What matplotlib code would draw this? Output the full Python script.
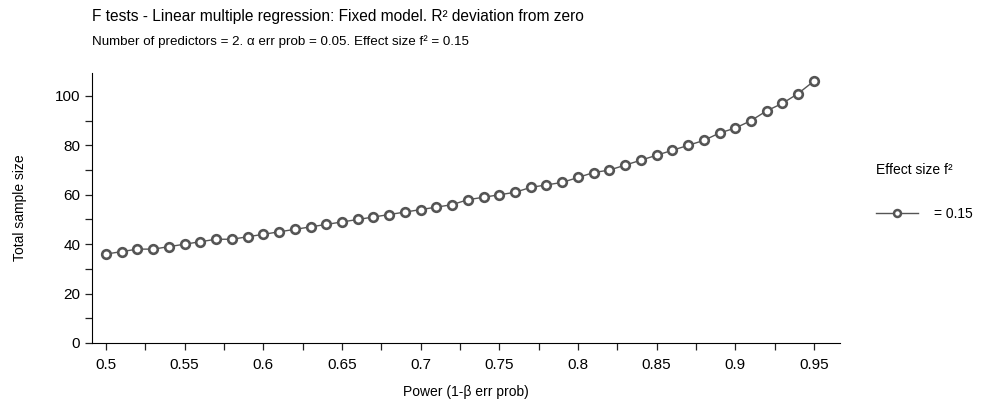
import numpy as np
from matplotlib import pyplot as plt
from matplotlib.ticker import MultipleLocator

plt.rcParams['font.family'] = ['Liberation Sans', 'DejaVu Sans']

# power (1-beta) values
power = [0.50, 0.51, 0.52, 0.53, 0.54, 0.55, 0.56, 0.57, 0.58, 0.59,
         0.60, 0.61, 0.62, 0.63, 0.64, 0.65, 0.66, 0.67, 0.68, 0.69,
         0.70, 0.71, 0.72, 0.73, 0.74, 0.75, 0.76, 0.77, 0.78, 0.79,
         0.80, 0.81, 0.82, 0.83, 0.84, 0.85, 0.86, 0.87, 0.88, 0.89,
         0.90, 0.91, 0.92, 0.93, 0.94, 0.95]
# total sample size
sample_size = [36, 37, 38, 38, 39, 40, 41, 42, 42, 43,
               44, 45, 46, 47, 48, 49, 50, 51, 52, 53,
               54, 55, 56, 58, 59, 60, 61, 63, 64, 65,
               67, 69, 70, 72, 74, 76, 78, 80, 82, 85,
               87, 90, 94, 97, 101, 106]
effect_label = "= 0.15"

fig = plt.figure(figsize=(9.85, 4.08), dpi=100)
ax = fig.add_axes([92/985, 65/408, 748/985, 270/408])

ax.plot(power, sample_size, color="#555555", linewidth=1.0,
        marker="o", markersize=6.2, markerfacecolor="white",
        markeredgecolor="#555555", markeredgewidth=1.9, label=effect_label)

ax.set_xlim(0.4911, 0.9666)
ax.set_ylim(0, 109.3)
ax.xaxis.set_minor_locator(MultipleLocator(0.025))
ax.yaxis.set_major_locator(MultipleLocator(20))
ax.yaxis.set_minor_locator(MultipleLocator(10))
ax.set_xticks(np.arange(0.5, 0.951, 0.05))
ax.set_xticklabels(["0.5", "0.55", "0.6", "0.65", "0.7", "0.75", "0.8", "0.85", "0.9", "0.95"])
ax.tick_params(which="both", direction="out", length=5, width=0.9, color="#222222", labelsize=11)
ax.tick_params(axis="x", pad=6)
ax.spines['top'].set_visible(False)
ax.spines['right'].set_visible(False)

ax.set_xlabel("Power (1-β err prob)", fontsize=10, labelpad=9)
ax.set_ylabel("Total sample size", fontsize=10, labelpad=20)

fig.text(92/985, 1 - 17/408, "F tests - Linear multiple regression: Fixed model. R² deviation from zero",
         fontsize=11.2, va="center", ha="left")
fig.text(92/985, 1 - 42/408, "Number of predictors = 2. α err prob = 0.05. Effect size f² = 0.15",
         fontsize=9.6, va="center", ha="left")

leg = ax.legend(loc="center left", bbox_to_anchor=(1.048, 0.56), frameon=False,
                title="Effect size f²", fontsize=10, title_fontsize=10,
                handlelength=3.0, handletextpad=1.2, labelspacing=2.2,
                borderpad=0, borderaxespad=0)
leg._legend_box.align = "left"
for h in leg.legend_handles:
    h.set_markersize(5)
    h.set_markeredgewidth(1.8)

fig.savefig("out.png", dpi=100)
